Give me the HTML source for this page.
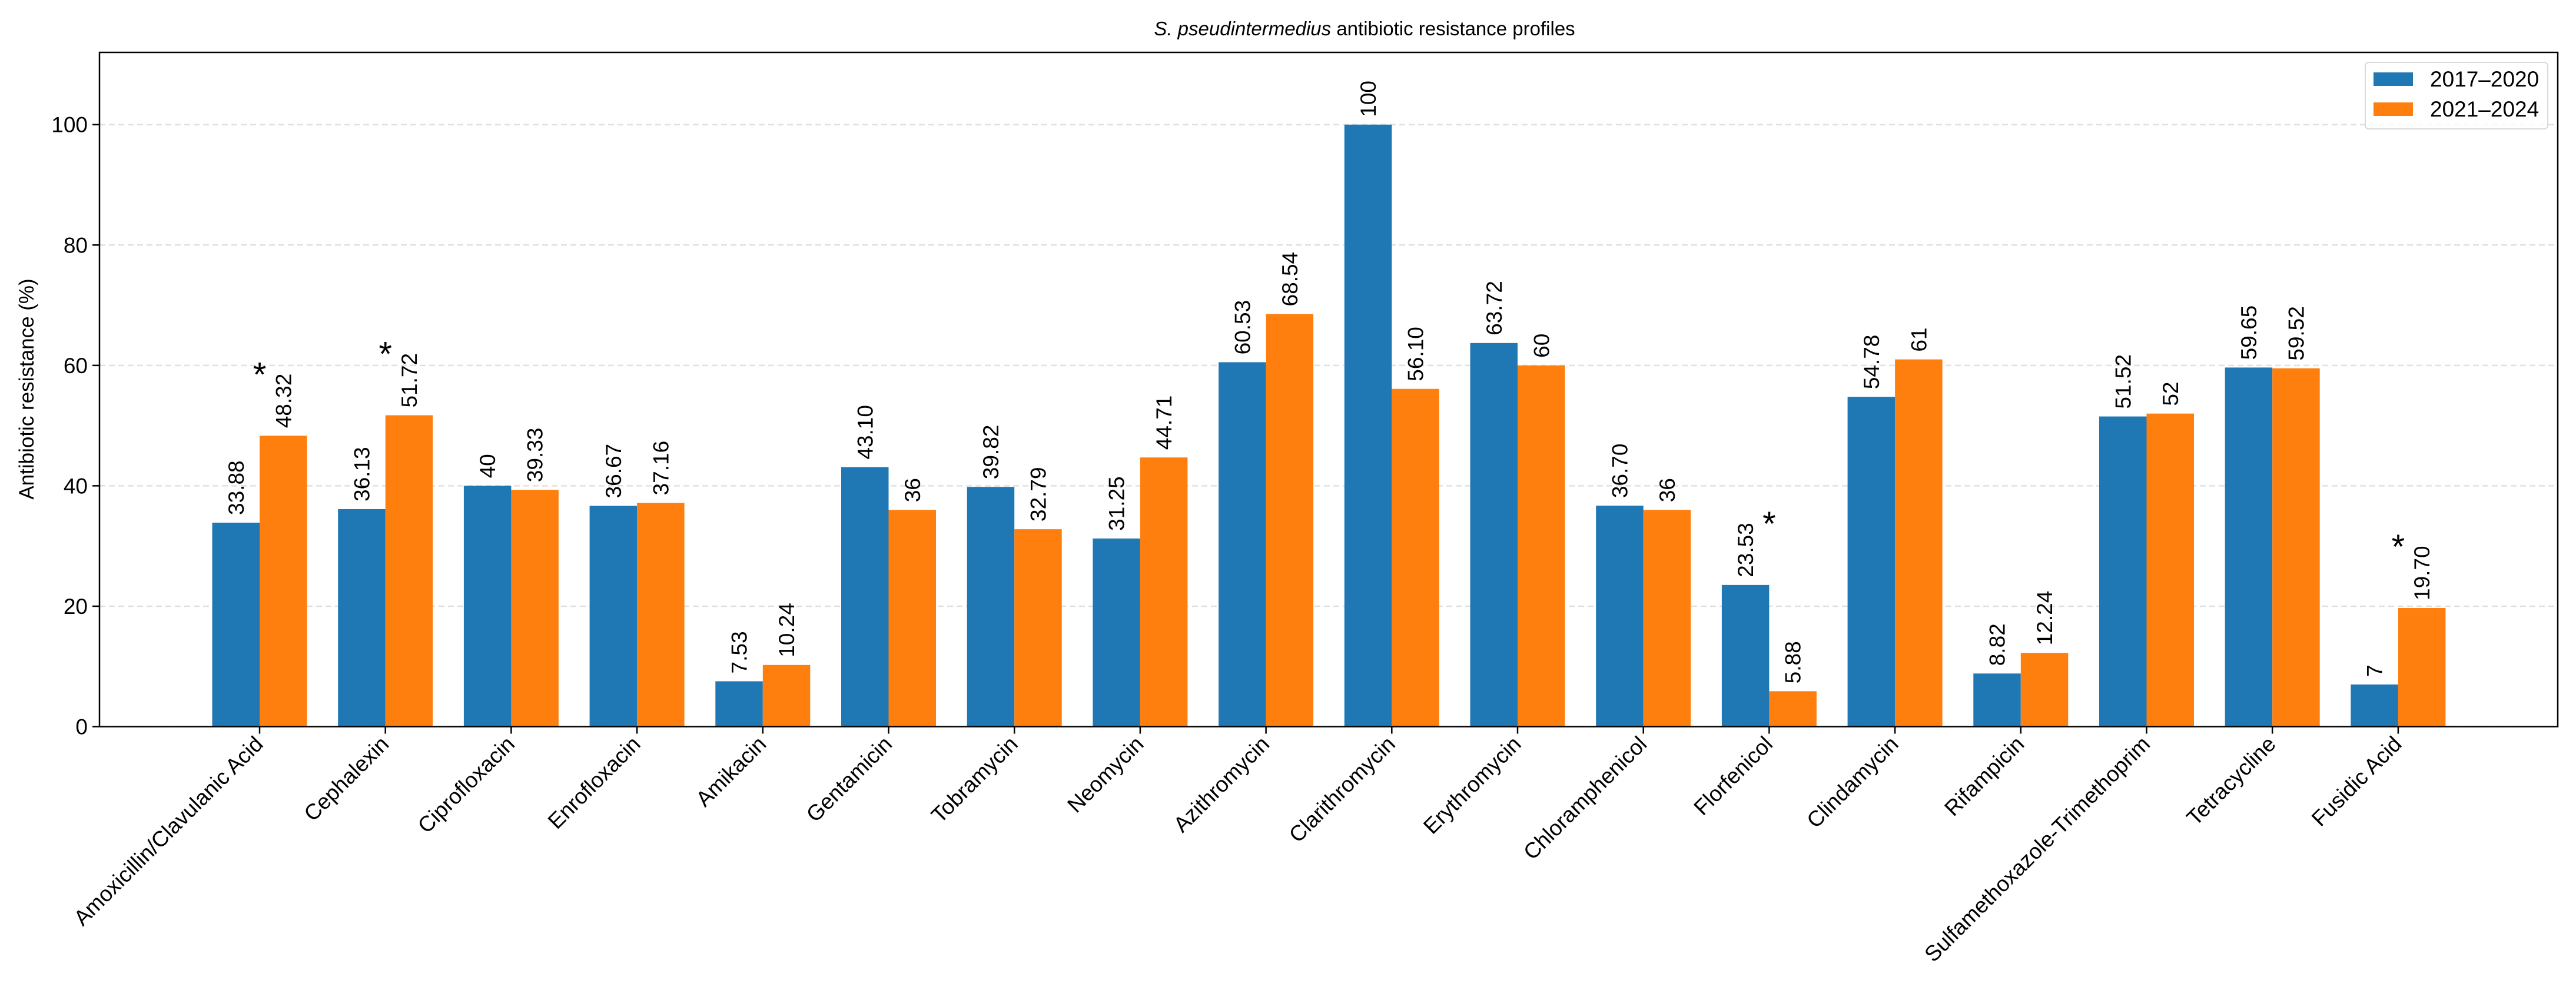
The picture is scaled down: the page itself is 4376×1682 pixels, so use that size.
<!DOCTYPE html>
<html><head><meta charset="utf-8"><style>
html,body{margin:0;padding:0;background:#fff;}
svg{display:block;font-family:"Liberation Sans",sans-serif;}
</style></head><body>
<svg id="chart" width="4376" height="1682" viewBox="0 0 4376 1682" xmlns="http://www.w3.org/2000/svg">
<rect x="0" y="0" width="4376" height="1682" fill="#fff"/>
<text x="2318" y="60" font-size="33" text-anchor="middle" fill="#000"><tspan font-style="italic">S. pseudintermedius</tspan> antibiotic resistance profiles</text>
<text transform="translate(57,661) rotate(-90)" font-size="35" text-anchor="middle" fill="#000">Antibiotic resistance (%)</text>
<g id="grid"></g>
<g id="bars"></g>
<g id="labels"></g>
<g id="axes"></g>
<g>
<rect x="4018" y="106" width="310" height="113" rx="6" fill="#fff" fill-opacity="0.8" stroke="#d9d9d9" stroke-width="2"/>
<rect x="4032" y="123" width="67" height="23" fill="#1f77b4"/>
<text x="4128" y="147" font-size="37" fill="#000">2017–2020</text>
<rect x="4032" y="174" width="67" height="23" fill="#ff7f0e"/>
<text x="4128" y="198" font-size="37" fill="#000">2021–2024</text>
</g>
</svg>
<script>
const categories = ["Amoxicillin/Clavulanic Acid","Cephalexin","Ciprofloxacin","Enrofloxacin","Amikacin","Gentamicin","Tobramycin","Neomycin","Azithromycin","Clarithromycin","Erythromycin","Chloramphenicol","Florfenicol","Clindamycin","Rifampicin","Sulfamethoxazole-Trimethoprim","Tetracycline","Fusidic Acid"];
const series2017 = [33.88,36.13,40,36.67,7.53,43.10,39.82,31.25,60.53,100,63.72,36.70,23.53,54.78,8.82,51.52,59.65,7];
const series2021 = [48.32,51.72,39.33,37.16,10.24,36,32.79,44.71,68.54,56.10,60,36,5.88,61,12.24,52,59.52,19.70];
const labels2017 = ["33.88","36.13","40","36.67","7.53","43.10","39.82","31.25","60.53","100","63.72","36.70","23.53","54.78","8.82","51.52","59.65","7"];
const labels2021 = ["48.32","51.72","39.33","37.16","10.24","36","32.79","44.71","68.54","56.10","60","36","5.88","61","12.24","52","59.52","19.70"];
const significant = [true,true,false,false,false,false,false,false,false,false,false,false,true,false,false,false,false,true];
const yTicks = [0,20,40,60,80,100];

const NS="http://www.w3.org/2000/svg";
const L=169,R=4345,T=89,B=1234.5,YMAX=112;
const X0=441,STEP=213.7,BW=80.5;
function xPos(i){return X0+STEP*i;}
function yPos(v){return B-(B-T)*v/YMAX;}
function mk(tag,attrs,parent){const e=document.createElementNS(NS,tag);for(const k in attrs)e.setAttribute(k,attrs[k]);parent.appendChild(e);return e;}
const grid=document.getElementById('grid'),bars=document.getElementById('bars'),labels=document.getElementById('labels'),axes=document.getElementById('axes');

yTicks.forEach(v=>{
  const y=yPos(v);
  const g=mk('line',{x1:L,x2:R,y1:y,y2:y,stroke:'#e0e0e0','stroke-width':2.5,'stroke-dasharray':'10,6'},grid);
  
  
  const t=mk('line',{x1:L-12,x2:L,y1:y,y2:y,stroke:'#000','stroke-width':2.5},axes);
  
  
  const tl=mk('text',{x:L-20,y:y+13,'font-size':37,'text-anchor':'end',fill:'#000'},axes);
  tl.textContent=v;
  
  
});

function valLabel(x,v,s,name){
  const y=yPos(v)-13;
  const t=mk('text',{transform:'translate('+(x+13)+','+y+') rotate(-90)','font-size':37,fill:'#000'},labels);
  t.textContent=s;
  
  
}

categories.forEach((c,i)=>{
  const cx=xPos(i);
  const b1=mk('rect',{x:cx-BW,y:yPos(series2017[i]),width:BW,height:B-yPos(series2017[i]),fill:'#1f77b4'},bars);
  
  
  const b2=mk('rect',{x:cx,y:yPos(series2021[i]),width:BW,height:B-yPos(series2021[i]),fill:'#ff7f0e'},bars);
  
  
  valLabel(cx-BW/2,series2017[i],labels2017[i],'value-label-2017-2020-'+i);
  valLabel(cx+BW/2,series2021[i],labels2021[i],'value-label-2021-2024-'+i);
  if(significant[i]){
    const m=Math.max(series2017[i],series2021[i]);
    const a=mk('text',{x:cx,y:yPos(m)-106+22,'font-size':58,'text-anchor':'middle',fill:'#000'},labels);
    a.textContent='*';
    
    
  }
  const tk=mk('line',{x1:cx,x2:cx,y1:B,y2:B+12,stroke:'#000','stroke-width':2.5},axes);
  
  
  const xl=mk('text',{transform:'translate('+(cx+8)+','+(B+32)+') rotate(-45)','font-size':37,'text-anchor':'end',fill:'#000'},axes);
  xl.textContent=c;
  
  
});

const frame=mk('rect',{x:L,y:T,width:R-L,height:B-T,fill:'none',stroke:'#000','stroke-width':2.5},axes);


</script>
</body></html>
